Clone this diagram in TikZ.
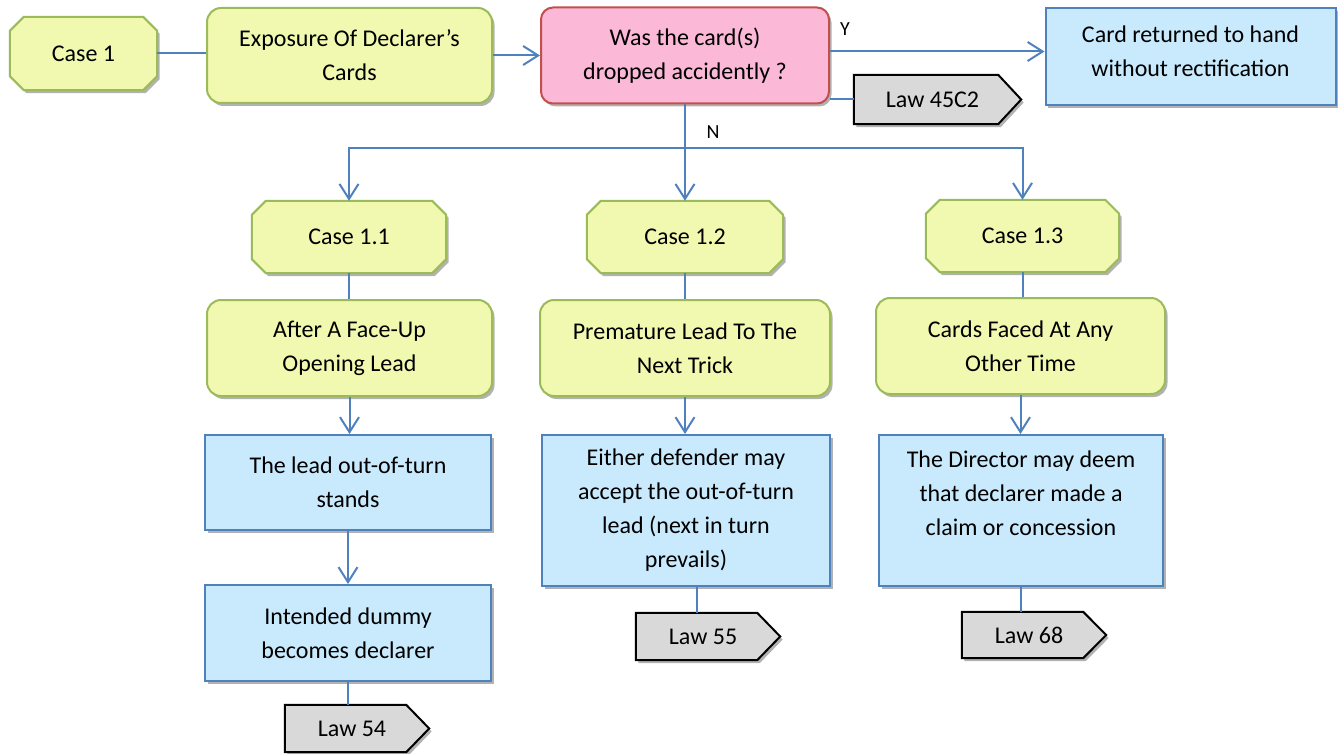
\documentclass[tikz,border=0pt]{standalone}
\usepackage{fontspec}
\setmainfont{Carlito}
\usetikzlibrary{arrows.meta,shadows,calc}
\pgfdeclarelayer{background}
\pgfsetlayers{background,main}
\definecolor{gfill}{HTML}{F1F8B0}
\definecolor{gdraw}{HTML}{9BBB59}
\definecolor{pfill}{HTML}{FBB8D7}
\definecolor{pdraw}{HTML}{C0504D}
\definecolor{bfill}{HTML}{C9EAFC}
\definecolor{bdraw}{HTML}{4F81BD}
\definecolor{lfill}{HTML}{D9D9D9}
\definecolor{lcol}{HTML}{4F81BD}
\newcommand\drawoct[1]{\draw[octstyle] ($(#1.north west)+(14,0)$) -- ($(#1.north east)+(-14,0)$) -- ($(#1.north east)+(0,14)$) -- ($(#1.south east)+(0,-14)$) -- ($(#1.south east)+(-14,0)$) -- ($(#1.south west)+(14,0)$) -- ($(#1.south west)+(0,-14)$) -- ($(#1.north west)+(0,14)$) -- cycle;}
\newcommand\drawlaw[1]{\draw[lawstyle] (#1.north west) -- ($(#1.north east)+(-23,0)$) -- (#1.east) -- ($(#1.south east)+(-23,0)$) -- (#1.south west) -- cycle;}
\begin{document}
\begin{tikzpicture}[x=1pt,y=-1pt,font=\fontsize{24}{34}\selectfont,
  shadowed/.style={drop shadow={shadow xshift=2.5pt,shadow yshift=-3pt,opacity=0.3,fill=black}},
  textbox/.style={inner sep=0pt,align=center},
  gbox/.style={textbox,draw=gdraw,fill=gfill,line width=2pt,rounded corners=14pt,shadowed},
  pbox/.style={textbox,draw=pdraw,fill=pfill,line width=2pt,rounded corners=12pt,shadowed},
  bbox/.style={textbox,draw=bdraw,fill=bfill,line width=2pt,shadowed},
  octstyle/.style={draw=gdraw,fill=gfill,line width=2pt,shadowed},
  lawstyle/.style={draw=black,fill=lfill,line width=2pt,shadowed},
  conn/.style={draw=lcol,line width=2pt},
  arr/.style={conn,-{Straight Barb[length=15pt,width=19pt,line width=2pt]}},
  lbl/.style={font=\fontsize{20}{24}\selectfont,inner sep=0pt}]
\useasboundingbox (0,0) rectangle (1341,754);

% nodes
\node[textbox,minimum width=147pt,minimum height=73pt] (c1) at (83.5,53.5) {Case 1};
\node[gbox,minimum width=285pt,minimum height=95pt] (exp) at (349.5,55.5) {Exposure Of Declarer’s\\Cards};
\node[pbox,minimum width=288pt,minimum height=96pt] (q) at (685,55.5) {Was the card(s)\\dropped accidently ?};
\node[bbox,minimum width=290pt,minimum height=97pt] (ret) at (1190.5,56.5) {Card returned to hand\\without rectification\\[-24pt]\mbox{}};
\node[textbox,minimum width=167pt,minimum height=49pt] (law45) at (937.5,99.5) {Law 45C2\hspace*{10pt}};

\node[textbox,minimum width=194pt,minimum height=72pt] (c11) at (349,237) {Case 1.1};
\node[textbox,minimum width=196pt,minimum height=72pt] (c12) at (685,237) {Case 1.2};
\node[textbox,minimum width=193pt,minimum height=72pt] (c13) at (1022.5,236) {Case 1.3};

\node[gbox,minimum width=285pt,minimum height=96pt] (a11) at (349.5,348) {After A Face-Up\\Opening Lead};
\node[gbox,minimum width=290pt,minimum height=96pt] (a12) at (685,348) {Premature Lead To The\\Next Trick};
\node[gbox,minimum width=289pt,minimum height=96pt] (a13) at (1020.5,346) {Cards Faced At Any\\Other Time};

\node[bbox,minimum width=286pt,minimum height=95pt] (b11) at (348,482.5) {The lead out-of-turn\\stands};
\node[bbox,minimum width=288pt,minimum height=151pt] (b12) at (686,510.5) {Either defender may\\accept the out-of-turn\\lead (next in turn\\prevails)};
\node[bbox,minimum width=284pt,minimum height=151pt] (b13) at (1021,510.5) {The Director may deem\\that declarer made a\\claim or concession\\\mbox{}};

\node[bbox,minimum width=286pt,minimum height=96pt] (d11) at (348,633) {Intended dummy\\becomes declarer};

\node[textbox,minimum width=144pt,minimum height=47pt] (law54) at (357,728.5) {Law 54\hspace*{10pt}};
\node[textbox,minimum width=144pt,minimum height=47pt] (law55) at (708,636.5) {Law 55\hspace*{10pt}};
\node[textbox,minimum width=144pt,minimum height=46pt] (law68) at (1034,635) {Law 68\hspace*{10pt}};

\begin{pgfonlayer}{background}
\drawoct{c1}
\drawoct{c11}
\drawoct{c12}
\drawoct{c13}
\drawlaw{law45}
\drawlaw{law54}
\drawlaw{law55}
\drawlaw{law68}
\end{pgfonlayer}

% connectors
\coordinate (split) at (685,148);
\coordinate (yst) at ($(q.east)+(0,-4)$);
\coordinate (l55) at ($(law55.north)+(-11,0)$);
\draw[conn] (c1.east) -- (c1.east -| exp.west);
\draw[arr] (exp.east) -- (q.west);
\draw[arr] (yst) -- (yst -| ret.west);
\draw[conn] (q.east |- law45.west) -- (law45.west);
\draw[conn] (q.south) -- (split);
\draw[arr] (split) -- (c12.north);
\draw[arr] (split) -| (c11.north);
\draw[arr] (split) -| (c13.north);
\draw[conn] (c11.south) -- (c11.south |- a11.north);
\draw[conn] (c12.south) -- (c12.south |- a12.north);
\draw[conn] (c13.south) -- (c13.south |- a13.north);
\draw[arr] (a11.south) -- (a11.south |- b11.north);
\draw[arr] (a12.south) -- (a12.south |- b12.north);
\draw[arr] (a13.south) -- (a13.south |- b13.north);
\draw[arr] (b11.south) -- (b11.south |- d11.north);
\draw[conn] (d11.south) -- (d11.south |- law54.north);
\draw[conn] (l55 |- b12.south) -- (l55);
\draw[conn] (b13.south) -- (b13.south |- law68.north);

\node[lbl] (ylbl) at (845,29) {Y};
\node[lbl] (nlbl) at (713,132) {N};
\end{tikzpicture}
\end{document}
